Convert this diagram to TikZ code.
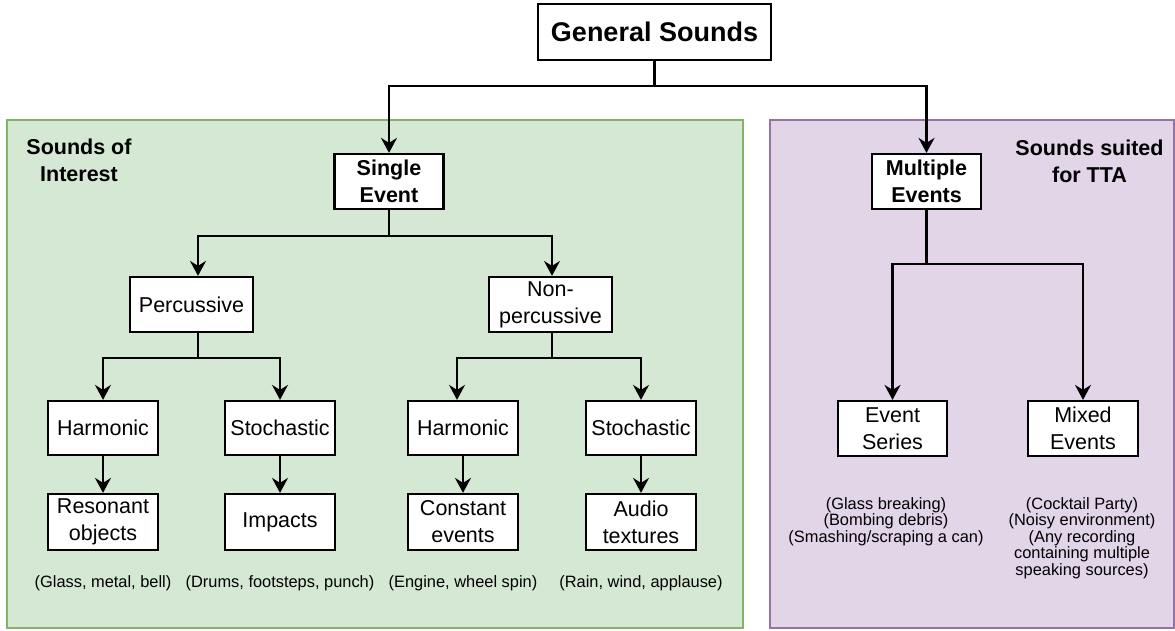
\documentclass[tikz,border=0pt]{standalone}
\usepackage{fontspec}
\setmainfont{Liberation Sans}
\usetikzlibrary{arrows.meta}
\definecolor{greenfill}{HTML}{D5E8D4}
\definecolor{greenline}{HTML}{82B366}
\definecolor{purplefill}{HTML}{E1D5E7}
\definecolor{purpleline}{HTML}{9673A6}
\begin{document}
\begin{tikzpicture}[x=1pt,y=-1pt,
  box/.style={draw=black, line width=2.2pt, fill=white, minimum width=110pt,
    minimum height=55pt, align=center, inner sep=0pt,
    font=\fontsize{21.5}{27}\selectfont},
  boldbox/.style={box, font=\fontsize{21.5}{27}\selectfont\bfseries},
  caption/.style={align=center, inner sep=0pt, font=\fontsize{16.4}{16.5}\selectfont},
  paneltitle/.style={align=center, inner sep=0pt, font=\fontsize{21.5}{27}\selectfont\bfseries},
  link/.style={draw=black, line width=2.2pt},
  arr/.style={link, -{Stealth[length=15pt,width=16pt,inset=5pt]}},
  panel/.style={line width=2pt}]
\useasboundingbox (0,0) rectangle (1175,630);

% background panels
\draw[panel, draw=greenline, fill=greenfill] (7,120) rectangle (743,628);
\draw[panel, draw=purpleline, fill=purplefill] (770,120) rectangle (1174,628);
\node[paneltitle] (soi) at (79,160) {Sounds of\\Interest};
\node[paneltitle] (stta) at (1089.5,161) {Sounds suited\\for TTA};

% root
\node[box, font=\fontsize{27}{32}\selectfont\bfseries, minimum width=233pt, minimum height=56pt] (gen) at (654.5,32) {General Sounds};

% second level
\node[boldbox, minimum width=109pt] (single) at (389,181.5) {Single\\Event};
\node[boldbox, minimum width=109pt] (multi) at (926.5,181.5) {Multiple\\Events};

% single event branch
\node[box, minimum width=123pt] (perc) at (191.5,304.5) {Percussive};
\node[box, minimum width=123pt] (nperc) at (550.5,304.5) {Non-\\percussive};

\node[box, minimum height=54pt] (harmA) at (103,428) {Harmonic};
\node[box, minimum height=54pt] (stochA) at (280,428) {Stochastic};
\node[box, minimum height=54pt] (harmB) at (463,428) {Harmonic};
\node[box, minimum height=54pt] (stochB) at (641,428) {Stochastic};

\node[box, minimum height=56pt] (reson) at (103,522) {Resonant\\objects};
\node[box, minimum height=56pt] (impact) at (280,522) {Impacts};
\node[box, minimum height=56pt] (const) at (463,522) {Constant\\events};
\node[box, minimum height=56pt] (audio) at (641,522) {Audio\\textures};

\node[caption] (capA) at (103,583) {(Glass, metal, bell)};
\node[caption] (capB) at (280,583) {(Drums, footsteps, punch)};
\node[caption] (capC) at (463,583) {(Engine, wheel spin)};
\node[caption] (capD) at (641,583) {(Rain, wind, applause)};

% multiple events branch
\node[box, minimum width=109pt] (series) at (892.5,428.5) {Event\\Series};
\node[box] (mixed) at (1083,428.5) {Mixed\\Events};
\node[caption] (capE) at (886,521.5) {(Glass breaking)\\(Bombing debris)\\(Smashing/scraping a can)};
\node[caption] (capF) at (1082,538) {(Cocktail Party)\\(Noisy environment)\\(Any recording\\containing multiple\\speaking sources)};

% connectors
\coordinate (jroot) at (654.5,86);
\draw[arr] (gen.south) -- (jroot) -| (single.north);
\draw[arr] (jroot) -| (multi.north);

\coordinate (jsingle) at (389,236);
\draw[arr] (single.south) -- (jsingle) -| ([xshift=6.5pt]perc.north);
\draw[arr] (jsingle) -| ([xshift=1.5pt]nperc.north);

\coordinate (jperc) at (198,358);
\draw[arr] ([xshift=6.5pt]perc.south) -- (jperc) -| (harmA.north);
\draw[arr] (jperc) -| (stochA.north);

\coordinate (jnperc) at (552,358);
\draw[arr] ([xshift=1.5pt]nperc.south) -- (jnperc) -| ([xshift=-6pt]harmB.north);
\draw[arr] (jnperc) -| (stochB.north);

\draw[arr] (harmA.south) -- (reson.north);
\draw[arr] (stochA.south) -- (impact.north);
\draw[arr] (harmB.south) -- (const.north);
\draw[arr] (stochB.south) -- (audio.north);

\coordinate (jmulti) at (926.5,264);
\draw[arr] (multi.south) -- (jmulti) -| (series.north);
\draw[arr] (jmulti) -| (mixed.north);
\end{tikzpicture}
\end{document}
